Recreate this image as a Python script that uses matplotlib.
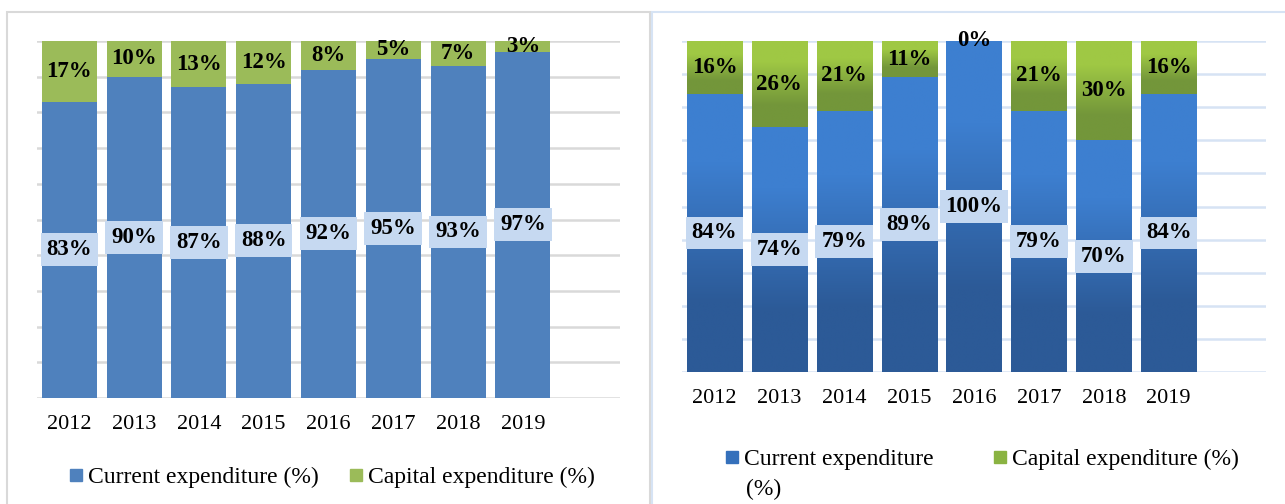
import matplotlib.pyplot as plt
import numpy as np
from matplotlib.patches import Rectangle
from matplotlib.colors import to_rgb

plt.rcParams['font.family'] = ['Liberation Serif', 'DejaVu Serif']

# data
years = ['2012', '2013', '2014', '2015', '2016', '2017', '2018', '2019']
current_left = [83, 90, 87, 88, 92, 95, 93, 97]
capital_left = [17, 10, 13, 12, 8, 5, 7, 3]
current_right = [84, 74, 79, 89, 100, 79, 70, 84]
capital_right = [16, 26, 21, 11, 0, 21, 30, 16]
legend_labels = ['Current expenditure (%)', 'Capital expenditure (%)']

W, H = 1285, 504
fig = plt.figure(figsize=(W / 100, H / 100), dpi=100)


def fx(px):
    return px / W


def fy(py):
    return 1 - py / H


# panel frames
fig.add_artist(Rectangle((fx(7), fy(530)), fx(643), fy(12) - fy(530),
                         transform=fig.transFigure, fill=False,
                         ec='#d9d9d9', lw=1.5))
fig.add_artist(Rectangle((fx(652), fy(530)), fx(700), fy(12) - fy(530),
                         transform=fig.transFigure, fill=False,
                         ec='#d6e3f4', lw=1.5))


def gradient_bars(ax, bars, top, bottom):
    arr = np.array([[to_rgb(top)], [to_rgb(bottom)]])
    for r in bars:
        x0, y0 = r.get_xy()
        w, h = r.get_width(), r.get_height()
        if h <= 0:
            continue
        ax.imshow(arr, extent=(x0, x0 + w, y0, y0 + h), aspect='auto',
                  interpolation='bilinear', zorder=2.1)


def panel(ax, cur, cap, gridc, gradient):
    x = np.arange(len(years))
    w = 0.85
    if gradient:
        b1 = ax.bar(x, cur, w, color='#3570bb', zorder=2)
        b2 = ax.bar(x, cap, w, bottom=cur, color='#8ab342', zorder=2)
        gradient_bars(ax, b1, '#3d7fd0', '#2c5a97')
        gradient_bars(ax, b2, '#9fc844', '#73963a')
    else:
        ax.bar(x, cur, w, color='#4f81bd', zorder=2)
        ax.bar(x, cap, w, bottom=cur, color='#9bbb59', zorder=2)

    for i in range(len(years)):
        ax.text(x[i], cur[i] / 2, f'{cur[i]}%', ha='center', va='center',
                fontsize=16.5, fontweight='bold', zorder=5,
                bbox=dict(boxstyle='square,pad=0.26', fc='#c6d9f1', ec='none'))
        ax.text(x[i], cur[i] + cap[i] / 2, f'{cap[i]}%', ha='center',
                va='center', fontsize=16.5, fontweight='bold', zorder=5)

    ax.set_xlim(-0.5, 8.5)
    ax.set_ylim(0, 100)
    ax.set_yticks(range(0, 101, 10))
    ax.yaxis.grid(True, color=gridc, lw=1.8)
    ax.set_axisbelow(True)
    for s in ax.spines.values():
        s.set_visible(False)
    ax.set_xticks(x, years, fontsize=16)
    ax.tick_params(left=False, labelleft=False, bottom=False, pad=9)


ax1 = fig.add_axes([fx(37), fy(398), fx(583), fy(41) - fy(398)])
panel(ax1, current_left, capital_left, '#d9d9d9', False)

ax2 = fig.add_axes([fx(682), fy(372), fx(584), fy(41) - fy(372)])
panel(ax2, current_right, capital_right, '#d6e3f4', True)


def legend_item(px, py, color, label, text_dx=7):
    s = 12
    fig.add_artist(Rectangle((fx(px), fy(py + s / 2)), fx(s), fy(py - s / 2) - fy(py + s / 2),
                             transform=fig.transFigure, color=color))
    fig.text(fx(px + s + text_dx - 1), fy(py), label, fontsize=17,
             ha='left', va='center_baseline')


# left legend
legend_item(70, 475, '#4f81bd', legend_labels[0])
legend_item(350, 475, '#9bbb59', legend_labels[1])

# right legend (first label wraps in the original)
legend_item(726, 457, '#3570bb', 'Current expenditure')
fig.text(fx(746), fy(487), '(%)', fontsize=17, ha='left', va='center_baseline')
legend_item(994, 457, '#8ab342', legend_labels[1])

fig.savefig('out.png', dpi=100)
